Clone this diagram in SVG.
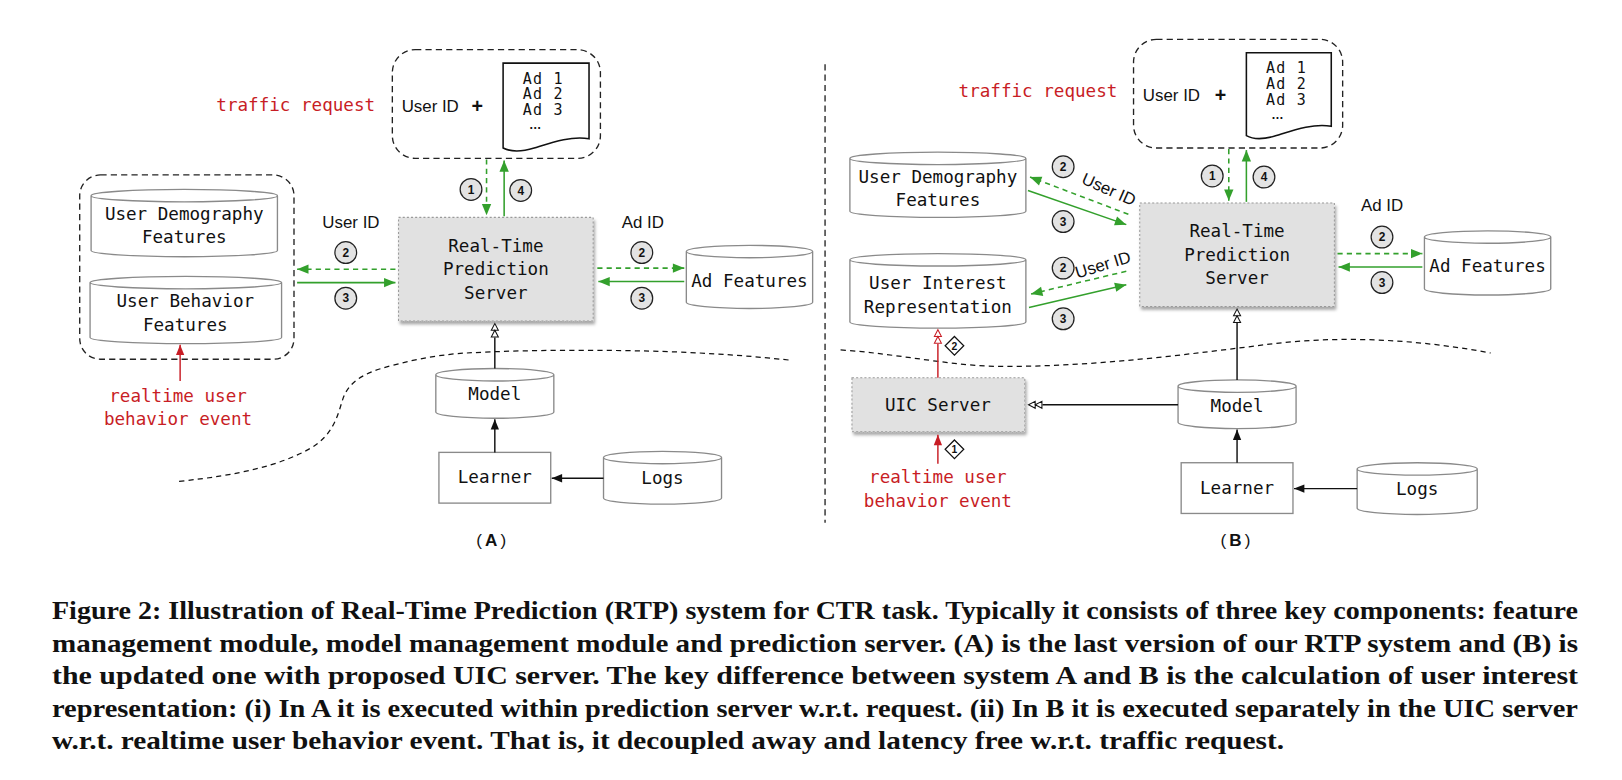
<svg xmlns="http://www.w3.org/2000/svg" width="1622" height="780" viewBox="0 0 1622 780">
<style>
.mono{font-family:"DejaVu Sans Mono","Liberation Mono",monospace;font-size:17px;fill:#111}
.adl{font-family:"DejaVu Sans Mono","Liberation Mono",monospace;font-size:14.5px;letter-spacing:1.2px;fill:#111}
.red{fill:#c81d25}
.sans{font-family:"Liberation Sans",Arial,sans-serif;font-size:16.3px;fill:#111}
.mid{text-anchor:middle}
.cyl{fill:#fff;stroke:#8a8a8a;stroke-width:1.3}
.box{fill:#fff;stroke:#8a8a8a;stroke-width:1.3}
.srv{fill:#e1e1e1;stroke:#9a9a9a;stroke-width:1;stroke-dasharray:2 2}
.cont{fill:none;stroke:#222;stroke-width:1.3;stroke-dasharray:6 4}
.doc{fill:#fff;stroke:#111;stroke-width:1.5}
.g{stroke:#33a02c;stroke-width:1.5;fill:none}
.gd{stroke:#33a02c;stroke-width:1.5;fill:none;stroke-dasharray:5 4}
.k{stroke:#111;stroke-width:1.4;fill:none}
.r{stroke:#c81d25;stroke-width:1.4;fill:none}
.num circle{fill:#e3e3e3;stroke:#222;stroke-width:1.2}
.num text,.dia text{font-family:"Liberation Sans",Arial,sans-serif;font-size:11.5px;font-weight:bold;text-anchor:middle;fill:#111}
.dia path{fill:#fff;stroke:#111;stroke-width:1.2}
.curve{fill:none;stroke:#111;stroke-width:1.2;stroke-dasharray:5 4}
.cap{font-family:"Liberation Serif","Times New Roman",serif;font-size:25px;font-weight:bold;fill:#111}
.lbl{font-family:"Liberation Sans",Arial,sans-serif;font-size:16.5px;fill:#111;text-anchor:middle;letter-spacing:3px}
</style>
<defs>
<filter id="sh" x="-10%" y="-10%" width="125%" height="130%"><feDropShadow dx="1.5" dy="3" stdDeviation="1.5" flood-color="#000" flood-opacity="0.35"/></filter>
<marker id="ga" markerUnits="userSpaceOnUse" markerWidth="12" markerHeight="10" refX="11" refY="4.5" orient="auto" overflow="visible"><path d="M0,0 L11,4.5 L0,9 Z" fill="#33a02c"/></marker>
<marker id="ka" markerUnits="userSpaceOnUse" markerWidth="11" markerHeight="9" refX="10" refY="4" orient="auto" overflow="visible"><path d="M0,0 L10,4 L0,8 Z" fill="#111"/></marker>
<marker id="ra" markerUnits="userSpaceOnUse" markerWidth="11" markerHeight="9" refX="10" refY="4" orient="auto" overflow="visible"><path d="M0,0 L10,4 L0,8 Z" fill="#c81d25"/></marker>
<marker id="ko" markerUnits="userSpaceOnUse" markerWidth="16" markerHeight="10" refX="0" refY="4" orient="auto" overflow="visible"><path d="M0.5,0.6 L7,4 L0.5,7.4 Z M7,0.6 L13.5,4 L7,7.4 Z" fill="#fff" stroke="#111" stroke-width="1"/></marker>
<marker id="ro" markerUnits="userSpaceOnUse" markerWidth="16" markerHeight="10" refX="0" refY="4" orient="auto" overflow="visible"><path d="M0.5,0.6 L7,4 L0.5,7.4 Z M7,0.6 L13.5,4 L7,7.4 Z" fill="#fff" stroke="#c81d25" stroke-width="1"/></marker>
</defs>
<rect width="1622" height="780" fill="#fff"/>

<g transform="scale(1.0352)">
<!-- ===== Panel A ===== -->
<text class="mono red" x="209" y="107">traffic request</text>
<g id="reqA">
<rect class="cont" x="379" y="48" width="201" height="105" rx="22"/>
<text class="sans" x="388" y="108">User ID</text>
<text class="sans" x="461" y="109" style="font-weight:bold;font-size:19px" text-anchor="middle">+</text>
<path class="doc" d="M486,61 H569 V134 C551,131 532,138 516,143 C503,147 494,147 486,143 Z"/>
<text class="adl" x="505" y="81">Ad 1</text>
<text class="adl" x="505" y="96">Ad 2</text>
<text class="adl" x="505" y="111">Ad 3</text>
<text class="sans" x="517" y="125" text-anchor="middle" style="font-size:12px;font-weight:bold">…</text>
</g>
<g id="featA">
<rect class="cont" x="77" y="169" width="207" height="178" rx="20"/>
<g id="udfA">
<path class="cyl" d="M88,189 A90,6 0 0 1 268,189 V242 A90,6 0 0 1 88,242 Z M88,189 A90,6 0 0 0 268,189"/>
<text class="mono mid" x="178" y="213">User Demography</text>
<text class="mono mid" x="178" y="235">Features</text>
</g>
<g id="ubfA">
<path class="cyl" d="M87,273 A92.5,6 0 0 1 272,273 V326 A92.5,6 0 0 1 87,326 Z M87,273 A92.5,6 0 0 0 272,273"/>
<text class="mono mid" x="179" y="297">User Behavior</text>
<text class="mono mid" x="179" y="320">Features</text>
</g>
</g>
<g id="rtpA">
<rect class="srv" x="385" y="210" width="188" height="100" filter="url(#sh)"/>
<text class="mono mid" x="479" y="243">Real-Time</text>
<text class="mono mid" x="479" y="266">Prediction</text>
<text class="mono mid" x="479" y="289">Server</text>
</g>
<g id="adfA">
<path class="cyl" d="M663,243 A61,6 0 0 1 785,243 V292 A61,6 0 0 1 663,292 Z M663,243 A61,6 0 0 0 785,243"/>
<text class="mono mid" x="724" y="277">Ad Features</text>
</g>
<g id="modelA">
<path class="cyl" d="M421,362 A57,6 0 0 1 535,362 V398 A57,6 0 0 1 421,398 Z M421,362 A57,6 0 0 0 535,362"/>
<text class="mono mid" x="478" y="386">Model</text>
</g>
<g id="learnerA">
<rect class="box" x="424" y="437" width="108" height="49"/>
<text class="mono mid" x="478" y="467">Learner</text>
</g>
<g id="logsA">
<path class="cyl" d="M583,442 A57,6 0 0 1 697,442 V481 A57,6 0 0 1 583,481 Z M583,442 A57,6 0 0 0 697,442"/>
<text class="mono mid" x="640" y="468">Logs</text>
</g>
<text class="mono red mid" x="172" y="388">realtime user</text>
<text class="mono red mid" x="172" y="411">behavior event</text>
<text class="sans mid" x="339" y="220">User ID</text>
<text class="sans mid" x="621" y="220">Ad ID</text>
<text class="lbl" x="476" y="527">(<tspan font-weight="bold">A</tspan>)</text>
<path class="curve" d="M173,465 C230,459 270,450 300,433 C322,420 326,402 331,386 C336,370 350,360 379,353 C405,346 430,342 451,341 C520,337 620,338 676,341 C715,343 745,346 764,348"/>

<!-- ===== Panel B ===== -->
<path d="M797,62 V505" stroke="#111" stroke-width="1.2" stroke-dasharray="6 4"/>
<text class="mono red" x="926" y="94">traffic request</text>
<g id="reqB">
<rect class="cont" x="1095" y="38" width="202" height="105" rx="22"/>
<text class="sans" x="1104" y="98">User ID</text>
<text class="sans" x="1179" y="99" style="font-weight:bold;font-size:19px" text-anchor="middle">+</text>
<path class="doc" d="M1204,51 H1286 V122 C1268,119 1249,126 1233,131 C1220,135 1211,135 1204,131 Z"/>
<text class="adl" x="1223" y="71">Ad 1</text>
<text class="adl" x="1223" y="86">Ad 2</text>
<text class="adl" x="1223" y="101">Ad 3</text>
<text class="sans" x="1234" y="115" text-anchor="middle" style="font-size:12px;font-weight:bold">…</text>
</g>
<g id="rtpB">
<rect class="srv" x="1101" y="196" width="188" height="100" filter="url(#sh)"/>
<text class="mono mid" x="1195" y="229">Real-Time</text>
<text class="mono mid" x="1195" y="252">Prediction</text>
<text class="mono mid" x="1195" y="274">Server</text>
</g>
<g id="adfB">
<path class="cyl" d="M1376,229 A61,6 0 0 1 1498,229 V279 A61,6 0 0 1 1376,279 Z M1376,229 A61,6 0 0 0 1498,229"/>
<text class="mono mid" x="1437" y="263">Ad Features</text>
</g>
<g id="udfB">
<path class="cyl" d="M821,153 A85,6 0 0 1 991,153 V204 A85,6 0 0 1 821,204 Z M821,153 A85,6 0 0 0 991,153"/>
<text class="mono mid" x="906" y="177">User Demography</text>
<text class="mono mid" x="906" y="199">Features</text>
</g>
<g id="uirB">
<path class="cyl" d="M821,251 A85,6 0 0 1 991,251 V311 A85,6 0 0 1 821,311 Z M821,251 A85,6 0 0 0 991,251"/>
<text class="mono mid" x="906" y="279">User Interest</text>
<text class="mono mid" x="906" y="302">Representation</text>
</g>
<g id="uicB">
<rect class="srv" x="823" y="365" width="167" height="52" filter="url(#sh)"/>
<text class="mono mid" x="906" y="397">UIC Server</text>
</g>
<g id="modelB">
<path class="cyl" d="M1138,373 A57,6 0 0 1 1252,373 V408 A57,6 0 0 1 1138,408 Z M1138,373 A57,6 0 0 0 1252,373"/>
<text class="mono mid" x="1195" y="398">Model</text>
</g>
<g id="learnerB">
<rect class="box" x="1141" y="447" width="108" height="49"/>
<text class="mono mid" x="1195" y="477">Learner</text>
</g>
<g id="logsB">
<path class="cyl" d="M1311,453 A58,6 0 0 1 1427,453 V491 A58,6 0 0 1 1311,491 Z M1311,453 A58,6 0 0 0 1427,453"/>
<text class="mono mid" x="1369" y="478">Logs</text>
</g>
<text class="mono red mid" x="906" y="467">realtime user</text>
<text class="mono red mid" x="906" y="490">behavior event</text>
<text class="sans mid" x="1335" y="204">Ad ID</text>
<text class="sans mid" transform="translate(1069,188) rotate(24)">User ID</text>
<text class="sans mid" transform="translate(1067,261) rotate(-17)">User ID</text>
<text class="lbl" x="1195" y="527">(<tspan font-weight="bold">B</tspan>)</text>
<path class="curve" d="M812,338 C870,342 920,354 970,354 C1060,354 1150,342 1230,332 C1300,324 1370,328 1440,341"/>

<!-- ===== Connectors ===== -->
<g id="connectors">
<!-- A -->
<path class="gd" d="M470,154 V208" marker-end="url(#ga)"/>
<path class="g" d="M487,209 V155" marker-end="url(#ga)"/>
<path class="gd" d="M382,260 H287" marker-end="url(#ga)"/>
<path class="g" d="M287,273 H382" marker-end="url(#ga)"/>
<path class="gd" d="M577,259 H661" marker-end="url(#ga)"/>
<path class="g" d="M661,272 H578" marker-end="url(#ga)"/>
<path class="k" d="M478,356 V326" marker-end="url(#ko)"/>
<path class="k" d="M478,437 V405" marker-end="url(#ka)"/>
<path class="k" d="M583,462 H533" marker-end="url(#ka)"/>
<path class="r" d="M174,368 V333" marker-end="url(#ra)"/>
<!-- B -->
<path class="gd" d="M1187,144 V194" marker-end="url(#ga)"/>
<path class="g" d="M1204,195 V145" marker-end="url(#ga)"/>
<path class="gd" d="M1292,245 H1374" marker-end="url(#ga)"/>
<path class="g" d="M1374,258 H1293" marker-end="url(#ga)"/>
<path class="gd" d="M1090,207 L995,171" marker-end="url(#ga)"/>
<path class="g" d="M993,184 L1088,217" marker-end="url(#ga)"/>
<path class="gd" d="M1088,262 L996,284" marker-end="url(#ga)"/>
<path class="g" d="M994,297 L1088,275" marker-end="url(#ga)"/>
<path class="k" d="M1195,367 V312" marker-end="url(#ko)"/>
<path class="k" d="M1138,391 H1007" marker-end="url(#ko)"/>
<path class="k" d="M1195,447 V415" marker-end="url(#ka)"/>
<path class="k" d="M1311,472 H1250" marker-end="url(#ka)"/>
<path class="r" d="M906,365 V332" marker-end="url(#ro)"/>
<path class="r" d="M906,448 V420" marker-end="url(#ra)"/>
</g>

<!-- step badges -->
<g class="num"><circle cx="455" cy="183" r="10.5"/><text x="455" y="187">1</text></g>
<g class="num"><circle cx="503" cy="184" r="10.5"/><text x="503" y="188">4</text></g>
<g class="num"><circle cx="334" cy="244" r="10.5"/><text x="334" y="248">2</text></g>
<g class="num"><circle cx="334" cy="288" r="10.5"/><text x="334" y="292">3</text></g>
<g class="num"><circle cx="620" cy="244" r="10.5"/><text x="620" y="248">2</text></g>
<g class="num"><circle cx="620" cy="288" r="10.5"/><text x="620" y="292">3</text></g>
<g class="num"><circle cx="1171" cy="170" r="10.5"/><text x="1171" y="174">1</text></g>
<g class="num"><circle cx="1221" cy="171" r="10.5"/><text x="1221" y="175">4</text></g>
<g class="num"><circle cx="1335" cy="229" r="10.5"/><text x="1335" y="233">2</text></g>
<g class="num"><circle cx="1335" cy="273" r="10.5"/><text x="1335" y="277">3</text></g>
<g class="num"><circle cx="1027" cy="161" r="10.5"/><text x="1027" y="165">2</text></g>
<g class="num"><circle cx="1027" cy="214" r="10.5"/><text x="1027" y="218">3</text></g>
<g class="num"><circle cx="1027" cy="259" r="10.5"/><text x="1027" y="263">2</text></g>
<g class="num"><circle cx="1027" cy="308" r="10.5"/><text x="1027" y="312">3</text></g>
<g class="dia"><path d="M922,325 l9,9 l-9,9 l-9,-9 z"/><text x="922" y="338" style="font-size:10px">2</text></g>
<g class="dia"><path d="M922,425 l9,9 l-9,9 l-9,-9 z"/><text x="922" y="438" style="font-size:10px">1</text></g>
</g>

<!-- caption -->
<text class="cap" x="52" y="619" textLength="1526" lengthAdjust="spacingAndGlyphs">Figure 2: Illustration of Real-Time Prediction (RTP) system for CTR task. Typically it consists of three key components: feature</text>
<text class="cap" x="52" y="651.5" textLength="1526" lengthAdjust="spacingAndGlyphs">management module, model management module and prediction server. (A) is the last version of our RTP system and (B) is</text>
<text class="cap" x="52" y="684" textLength="1526" lengthAdjust="spacingAndGlyphs">the updated one with proposed UIC server. The key difference between system A and B is the calculation of user interest</text>
<text class="cap" x="52" y="716.5" textLength="1526" lengthAdjust="spacingAndGlyphs">representation: (i) In A it is executed within prediction server w.r.t. request. (ii) In B it is executed separately in the UIC server</text>
<text class="cap" x="52" y="749" textLength="1232" lengthAdjust="spacingAndGlyphs">w.r.t. realtime user behavior event. That is, it decoupled away and latency free w.r.t. traffic request.</text>
</svg>
